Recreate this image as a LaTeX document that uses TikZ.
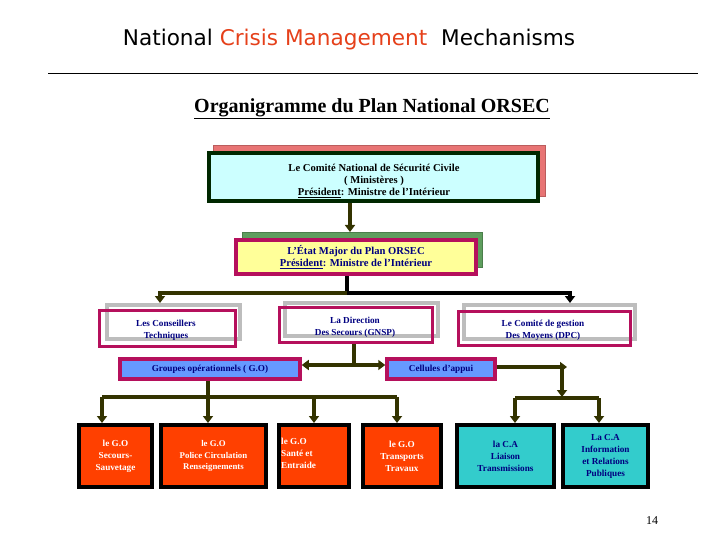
\documentclass[tikz,border=0pt]{standalone}
\usepackage{fontspec}
\setmainfont{Liberation Serif}
\newfontfamily\titlefont{DejaVu Sans}
\usetikzlibrary{arrows.meta}
\definecolor{olivec}{HTML}{333300}
\definecolor{orng}{HTML}{E5401A}
\definecolor{crim}{HTML}{B5105C}
\definecolor{navyc}{HTML}{000080}
\definecolor{cyanl}{HTML}{CCFFFF}
\definecolor{dgreen}{HTML}{002800}
\definecolor{salmon}{HTML}{E87474}
\definecolor{yell}{HTML}{FFFF99}
\definecolor{gsh}{HTML}{5E9E5E}
\definecolor{greysh}{HTML}{BDBDBD}
\definecolor{blue2}{HTML}{6699FF}
\definecolor{redgo}{HTML}{FF4000}
\definecolor{teal2}{HTML}{33CCCC}
\tikzset{
  boxbase/.style={rectangle, inner sep=0pt, align=center},
  txt/.style={font=\bfseries\fontsize{9.2}{12}\selectfont},
  bigtxt/.style={font=\bfseries\fontsize{10.6}{12}\selectfont},
  shsalmon/.style={boxbase, fill=salmon, draw=salmon!80!black, line width=1pt},
  shgreen/.style={boxbase, fill=gsh, draw=gsh!80!black, line width=1pt},
  shgrey/.style={boxbase, draw=greysh, line width=4pt},
  comitebox/.style={boxbase, fill=cyanl, draw=dgreen, line width=4pt},
  etatbox/.style={boxbase, bigtxt, text=navyc, fill=yell, draw=crim, line width=3.5pt},
  whitebox/.style={boxbase, draw=crim, line width=3pt},
  wtxt/.style={txt, text=navyc, align=center, inner sep=0pt},
  bluebox/.style={boxbase, txt, text=navyc, fill=blue2, draw=crim, line width=3.5pt},
  gobox/.style={boxbase, txt, text=white, fill=redgo, draw=black, line width=4pt, minimum height=62pt},
  cabox/.style={boxbase, txt, text=navyc, fill=teal2, draw=black, line width=4pt, minimum height=62pt},
  conn/.style={draw=olivec, line width=3.5pt, -{Triangle[width=10pt,length=7pt]}},
  connb/.style={conn, draw=black},
  plainline/.style={draw=olivec, line width=3.5pt},
  plainb/.style={draw=black, line width=3.5pt},
  dbl/.style={draw=olivec, line width=3.5pt, {Triangle[width=10pt,length=7pt]}-{Triangle[width=10pt,length=7pt]}},
}
\begin{document}
\begin{tikzpicture}[x=1pt,y=-1pt]
\useasboundingbox (0,0) rectangle (720,540);

% title and rule
\node[font=\titlefont\fontsize{21.6}{24}\selectfont] (title) at (349,40) {National \textcolor{orng}{Crisis Management}\ \ Mechanisms};
\coordinate (ruleL) at (48,74);
\coordinate (ruleR) at (698,74);
\draw[line width=1pt] (ruleL) -- (ruleR);
\node[font=\bfseries\fontsize{20}{22}\selectfont] (sub) at (372,109) {\underline{Organigramme du Plan National ORSEC}};

% Comite
\node[shsalmon, minimum width=332pt, minimum height=51pt] (comiteSh) at (379,171.5) {};
\node[comitebox, minimum width=329pt, minimum height=48pt] (comite) at (373.5,177) {};
\node[bigtxt, align=center, inner sep=0pt] (comiteT) at (374,181) {Le Comité National de Sécurité Civile\\( Ministères )\\\underline{Président}: Ministre de l'Intérieur};

% Etat major
\node[shgreen, minimum width=240pt, minimum height=35pt] (etatSh) at (362.5,250) {};
\node[etatbox, minimum width=240pt, minimum height=34pt] (etat) at (356,257) {L'État Major du Plan ORSEC\\\underline{Président}: Ministre de l'Intérieur};

\draw[conn] (comite.south -| 350,0) -- (etatSh.north -| 350,0);

% row 3
\node[shgrey, minimum width=133pt, minimum height=34pt] (consSh) at (173.5,322) {};
\node[whitebox, minimum width=136pt, minimum height=36pt] (cons) at (167.5,328.5) {};
\node[wtxt] (consT) at (166,330) {Les Conseillers\\Techniques};
\node[shgrey, minimum width=153pt, minimum height=33pt] (dirSh) at (361.5,319.5) {};
\node[whitebox, minimum width=153pt, minimum height=35pt] (dir) at (356,325) {};
\node[wtxt] (dirT) at (355,327.5) {La Direction\\Des Secours (GNSP)};
\node[shgrey, minimum width=171pt, minimum height=34pt] (gestSh) at (549.5,322) {};
\node[whitebox, minimum width=172pt, minimum height=34pt] (gest) at (544.5,328.5) {};
\node[wtxt] (gestT) at (543,330.5) {Le Comité de gestion\\Des Moyens (DPC)};

\coordinate (j1) at (347,293);
\coordinate (j1L) at (160,293);
\coordinate (j1R) at (570,293);
\draw[plainb] (etat.south -| j1) -- (j1);
\draw[conn] (j1) -- (j1L) -- (j1L |- consSh.north);
\draw[connb] (j1) -- (j1R) -- (j1R |- gestSh.north);

% row 4
\node[bluebox, minimum width=180pt, minimum height=20pt] (grp) at (210,369) {Groupes opérationnels ( G.O)};
\node[bluebox, minimum width=108pt, minimum height=20pt] (cell) at (441,369) {Cellules d'appui};

\coordinate (j2) at (354,365);
\draw[plainline] (dir.south -| j2) -- (j2);
\draw[dbl] (grp.east |- j2) -- (cell.west |- j2);

% row 5
\node[gobox, minimum width=73pt] (go1) at (115.5,456) {le G.O\\Secours-\\Sauvetage};
\node[gobox, minimum width=105pt, font=\bfseries\fontsize{8.8}{11.5}\selectfont] (go2) at (213.5,456) {le G.O\\Police Circulation\\Renseignements};
\node[gobox, minimum width=70pt] (go3) at (314,456) {};
\node[txt, text=white, anchor=north west, align=left, inner sep=0pt] (go3t) at (281,438) {le G.O\\Santé et\\Entraide};
\node[gobox, minimum width=78pt] (go4) at (402,456) {le G.O\\Transports\\Travaux};
\node[cabox, minimum width=97pt] (ca1) at (505.5,456) {la C.A\\Liaison\\Transmissions};
\node[cabox, minimum width=85pt] (ca2) at (605.5,456) {La C.A\\Information\\et Relations\\Publiques};

\coordinate (j3) at (208,397);
\coordinate (j3a) at (102,397);
\coordinate (j3d) at (314,397);
\coordinate (j3e) at (397,397);
\draw[plainline] (grp.south -| j3) -- (j3);
\draw[plainline] (j3a) -- (j3e);
\draw[conn] (j3a) -- (j3a |- go1.north);
\draw[conn] (j3) -- (j3 |- go2.north);
\draw[conn] (j3d) -- (j3d |- go3.north);
\draw[conn] (j3e) -- (j3e |- go4.north);

\coordinate (c1) at (567,367);
\coordinate (c2) at (562,367);
\coordinate (c3) at (562,397);
\coordinate (c4) at (515,398);
\coordinate (c5) at (599,398);
\draw[conn] (cell.east |- c1) -- (c1);
\draw[conn] (c2) -- (c3);
\draw[plainline] (c4) -- (c5);
\draw[conn] (c4) -- (c4 |- ca1.north);
\draw[conn] (c5) -- (c5 |- ca2.north);

\node[font=\fontsize{12}{14}\selectfont] (pg) at (652,521) {14};
\end{tikzpicture}
\end{document}
